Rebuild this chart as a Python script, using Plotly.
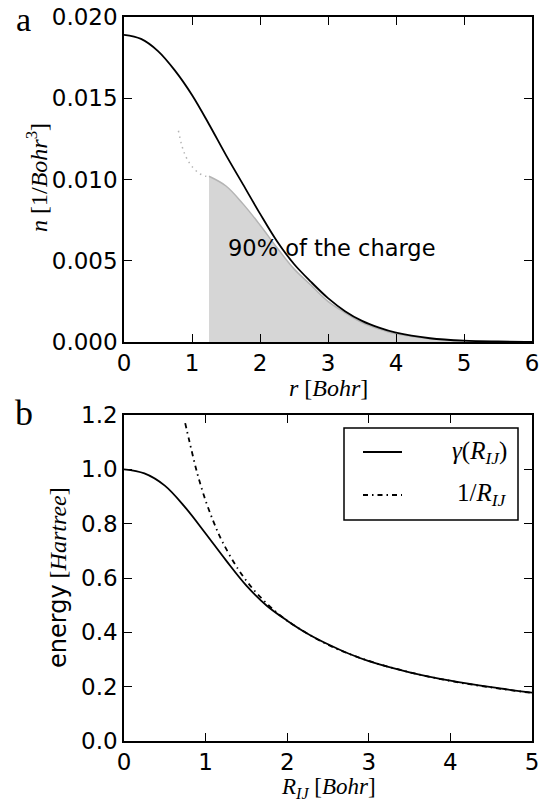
import plotly.graph_objects as go

# ---- panel a data ----
r_total = [0, 0.25, 0.5, 0.75, 1.0, 1.25, 1.5, 1.75, 2.0, 2.25, 2.5, 2.75, 3.0, 3.25, 3.5, 3.75, 4.0, 4.5, 5.0, 5.5, 6.0]
n_total = [0.0189, 0.01865, 0.0179, 0.0167, 0.0152, 0.0134, 0.0115, 0.0097, 0.0079, 0.0062, 0.0048, 0.0037, 0.0027, 0.0019, 0.0013, 0.00088, 0.00057, 0.00023, 0.00008, 0.00003, 0.00001]

r_shell = [1.25, 1.5, 1.75, 2.0, 2.25, 2.5, 2.75, 3.0, 3.25, 3.5, 3.75, 4.0, 4.5, 5.0, 5.5, 6.0]
n_shell = [0.0102, 0.0096, 0.0085, 0.0072, 0.0058, 0.0045, 0.0035, 0.0025, 0.0018, 0.0012, 0.0008, 0.0005, 0.0002, 0.00007, 0.00002, 0.00001]

r_inner = [0.8, 0.85, 0.9, 0.95, 1.0, 1.1, 1.2, 1.25]
n_inner = [0.0130, 0.0121, 0.0115, 0.0111, 0.0108, 0.0104, 0.0102, 0.0102]

# ---- panel b data ----
R_gamma = [0, 0.25, 0.5, 0.75, 1.0, 1.25, 1.5, 1.75, 2.0, 2.25, 2.5, 2.75, 3.0, 3.5, 4.0, 4.5, 5.0]
gamma = [1.0, 0.985, 0.94, 0.86, 0.764, 0.665, 0.572, 0.498, 0.443, 0.395, 0.356, 0.322, 0.294, 0.253, 0.222, 0.198, 0.178]

R_coul = [0.75, 0.8, 0.9, 1.0, 1.1, 1.2, 1.4, 1.6, 1.8, 2.0, 2.5, 3.0, 3.5, 4.0, 4.5, 5.0]
coul = [1.17, 1.105, 0.983, 0.885, 0.805, 0.737, 0.632, 0.553, 0.492, 0.443, 0.354, 0.295, 0.253, 0.221, 0.197, 0.177]

legend_labels = ["<i>γ</i>(<i>R</i><sub><i>IJ</i></sub>)", "1/<i>R</i><sub><i>IJ</i></sub>"]

xticks_a = [0, 1, 2, 3, 4, 5, 6]
yticks_a = [0.0, 0.005, 0.010, 0.015, 0.020]
xticks_b = [0, 1, 2, 3, 4, 5]
yticks_b = [0.0, 0.2, 0.4, 0.6, 0.8, 1.0, 1.2]

W, H = 554, 802
SANS = "DejaVu Sans"
SERIF = "Liberation Serif"
DASHDOT = "5px,4px,1.5px,4px"


def px(x):
    return x / W


def py(y):
    return 1 - y / H


fig = go.Figure()

fig.add_trace(go.Scatter(x=r_shell, y=n_shell, mode="lines", line=dict(color="#b4b4b4", width=1.5, shape="spline"),
                         fill="tozeroy", fillcolor="#d6d6d6", showlegend=False, xaxis="x", yaxis="y"))
fig.add_trace(go.Scatter(x=r_inner, y=n_inner, mode="lines", line=dict(color="#b4b4b4", width=1.5, dash="1.5px,4px", shape="spline"),
                         showlegend=False, xaxis="x", yaxis="y"))
fig.add_trace(go.Scatter(x=r_total, y=n_total, mode="lines", line=dict(color="black", width=1.8, shape="spline"),
                         showlegend=False, xaxis="x", yaxis="y"))

fig.add_trace(go.Scatter(x=R_gamma, y=gamma, mode="lines", line=dict(color="black", width=1.8, shape="spline"),
                         name=legend_labels[0], showlegend=False, xaxis="x2", yaxis="y2"))
fig.add_trace(go.Scatter(x=R_coul, y=coul, mode="lines", line=dict(color="black", width=1.8, dash=DASHDOT, shape="spline"),
                         name=legend_labels[1], showlegend=False, xaxis="x2", yaxis="y2"))

xdom = [px(124), px(532)]
ya_dom = [py(342), py(17)]
yb_dom = [py(741), py(415)]

axcommon = dict(showline=True, linecolor="black", linewidth=1.5, mirror="allticks", ticks="inside",
                ticklen=8, tickwidth=1, tickcolor="black", showgrid=False, zeroline=False,
                tickfont=dict(family=SANS, size=23, color="black"), automargin=False)

fig.update_layout(
    width=W, height=H, margin=dict(l=0, r=0, t=0, b=0),
    paper_bgcolor="white", plot_bgcolor="white", showlegend=False,
    xaxis=dict(domain=xdom, range=[0, 6], tickvals=xticks_a, anchor="y", **axcommon),
    yaxis=dict(domain=ya_dom, range=[0, 0.02], tickvals=yticks_a, tickformat=".3f", anchor="x", **axcommon),
    xaxis2=dict(domain=xdom, range=[0, 5], tickvals=xticks_b, anchor="y2", **axcommon),
    yaxis2=dict(domain=yb_dom, range=[0, 1.2], tickvals=yticks_b, tickformat=".1f", anchor="x2", **axcommon),
)

# legend box (drawn manually to match matplotlib's legend layout)
fig.add_shape(type="rect", xref="paper", yref="paper", x0=px(344), x1=px(518), y0=py(520), y1=py(428),
              line=dict(color="black", width=1.5), fillcolor="white", layer="above")
fig.add_shape(type="line", xref="paper", yref="paper", x0=px(363), x1=px(402), y0=py(452), y1=py(452),
              line=dict(color="black", width=1.8), layer="above")
fig.add_shape(type="line", xref="paper", yref="paper", x0=px(363), x1=px(402), y0=py(495), y1=py(495),
              line=dict(color="black", width=1.8, dash=DASHDOT), layer="above")

ann = [
    dict(text=legend_labels[0], x=px(509), y=py(452), xanchor="right", font=dict(family=SERIF, size=25, color="black")),
    dict(text=legend_labels[1], x=px(509), y=py(494), xanchor="right", font=dict(family=SERIF, size=25, color="black")),
    dict(text="a", x=px(23), y=py(19), font=dict(family=SERIF, size=34, color="black")),
    dict(text="b", x=px(24), y=py(413), font=dict(family=SERIF, size=36, color="black")),
    dict(text="<i>r</i> [<i>Bohr</i>]", x=px(328), y=py(388), font=dict(family=SERIF, size=24, color="black")),
    dict(text="<i>n</i> [1/<i>Bohr</i><sup>3</sup>]", x=px(37), y=py(178), textangle=-90,
         font=dict(family=SERIF, size=24, color="black")),
    dict(text="<i>R</i><sub><i>IJ</i></sub> [<i>Bohr</i>]", x=px(328), y=py(788), font=dict(family=SERIF, size=23, color="black")),
    dict(text="<span style='font-family:DejaVu Sans'>energy</span> [<i>Hartree</i>]", x=px(58), y=py(578), textangle=-90,
         font=dict(family=SERIF, size=24, color="black")),
]
for a in ann:
    a.setdefault("xanchor", "center")
    a.update(xref="paper", yref="paper", showarrow=False, yanchor="middle")
    fig.add_annotation(**a)

fig.add_annotation(text="90% of the charge", x=1.5, y=0.0058, xref="x", yref="y", showarrow=False,
                   xanchor="left", yanchor="middle", font=dict(family=SANS, size=22.5, color="black"))

fig.write_html("out.html", config={"displayModeBar": False},
               post_script="document.body.style.margin='0px';document.body.style.overflow='hidden';")
